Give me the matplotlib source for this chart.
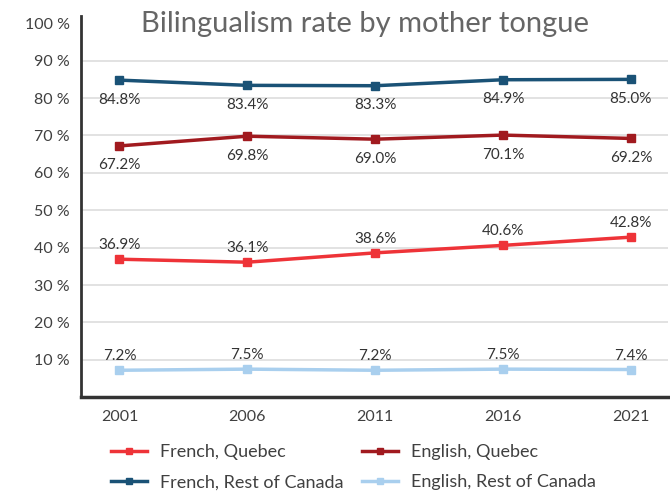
import matplotlib.pyplot as plt
import numpy as np

years = [2001, 2006, 2011, 2016, 2021]
french_quebec = [36.9, 36.1, 38.6, 40.6, 42.8]
english_quebec = [67.2, 69.8, 69.0, 70.1, 69.2]
french_roc = [84.8, 83.4, 83.3, 84.9, 85.0]
english_roc = [7.2, 7.5, 7.2, 7.5, 7.4]
y_ticks = [10, 20, 30, 40, 50, 60, 70, 80, 90, 100]

plt.rcParams['font.family'] = ['Lato', 'DejaVu Sans']

fig = plt.figure(figsize=(6.7, 4.94), dpi=100)
ax = fig.add_axes([0.121, 0.196, 0.876, 0.772])

series = [
    ("French, Quebec", french_quebec, "#EE3338", 10),
    ("English, Quebec", english_quebec, "#A11A1F", -14),
    ("French, Rest of Canada", french_roc, "#1A5276", -14),
    ("English, Rest of Canada", english_roc, "#A9CFEE", 10),
]

handles = []
for name, vals, color, off in series:
    h, = ax.plot(years, vals, color=color, lw=2.5, marker='s', markersize=6, label=name)
    handles.append(h)
    for x, v in zip(years, vals):
        ax.annotate(f"{v:.1f}%", (x, v), xytext=(0, off), textcoords='offset points',
                    ha='center', va='center', fontsize=11, color='#333333')

ax.set_xlim(1999.5, 2022.45)
ax.set_ylim(0, 102)
ax.set_xticks(years)
ax.set_yticks(y_ticks)
ax.set_yticklabels([f"{t} %" for t in y_ticks])
ax.tick_params(length=0, labelsize=11.5, colors='#404040', pad=8)
ax.tick_params(axis='x', pad=9)
for g in y_ticks[:-1]:
    ax.axhline(g, color='#DDDDDD', lw=1.2, zorder=0)

ax.spines['top'].set_visible(False)
ax.spines['right'].set_visible(False)
ax.spines['left'].set_color('#333333')
ax.spines['left'].set_linewidth(2)
ax.spines['bottom'].set_color('#333333')
ax.spines['bottom'].set_linewidth(2.5)

fig.text(0.545, 0.952, "Bilingualism rate by mother tongue", ha='center', va='center',
         fontsize=21, color='#666666')

# legend fills column-wise, so reorder to get the reference rows
order = [0, 2, 1, 3]
fig.legend([handles[i] for i in order], [series[i][0] for i in order],
           loc='upper left', bbox_to_anchor=(0.155, 0.115), ncol=2, frameon=False,
           fontsize=13, handlelength=2.0, columnspacing=1.05, labelspacing=0.77,
           labelcolor='#404040', borderaxespad=0, markerscale=0.75, handletextpad=0.7)

plt.savefig("out.png", dpi=100)
